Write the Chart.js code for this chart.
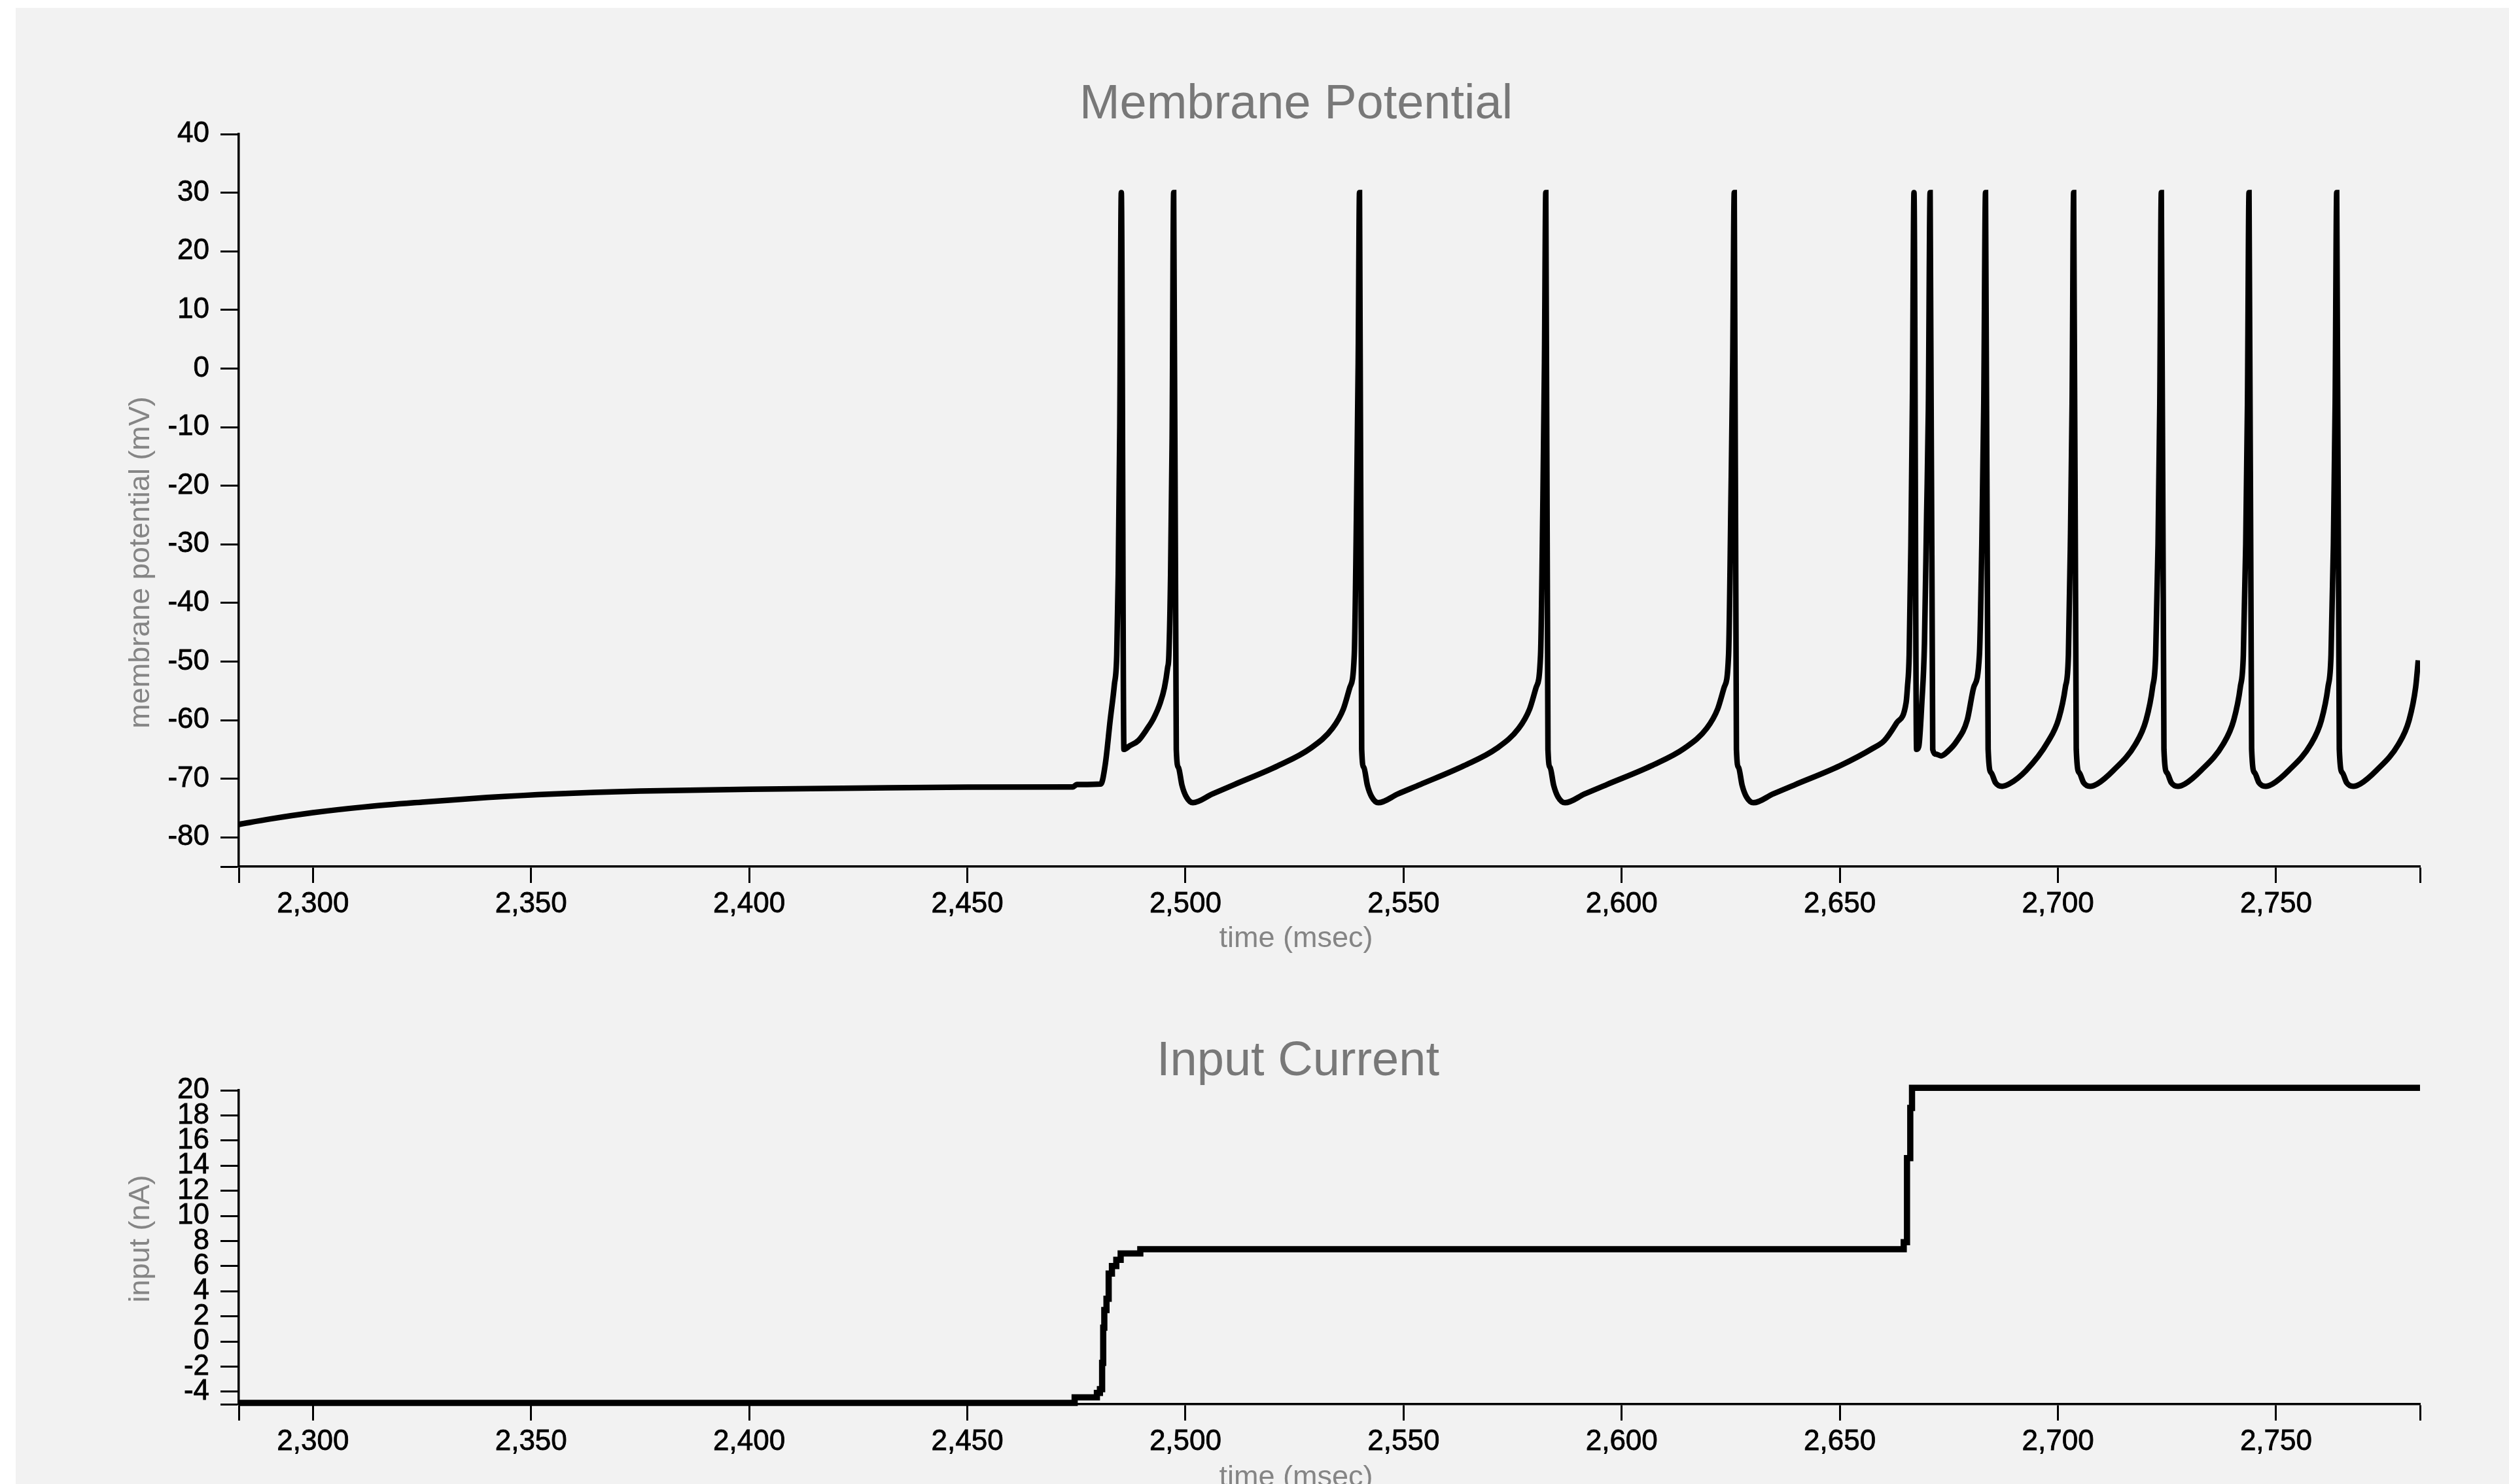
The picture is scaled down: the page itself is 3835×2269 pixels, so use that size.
<!DOCTYPE html>
<html><head><meta charset="utf-8">
<script src="https://cdn.jsdelivr.net/npm/chart.js@4.4.1/dist/chart.umd.min.js"></script>
<style>
html,body{margin:0;padding:0;background:#fff;overflow:hidden;}
#stage{position:relative;width:3835px;height:2269px;overflow:hidden;background:#fff;}
#panel{position:absolute;left:24px;top:12px;right:0;bottom:0;background:#f2f2f2;}
#topChart{position:absolute;left:0;top:0;width:3835px;height:1475px;}
#bottomChart{position:absolute;left:0;top:1475px;width:3835px;height:822px;}
</style></head><body>
<div id="stage"><div id="panel"></div>
<canvas id="topChart" width="3835" height="1475"></canvas>
<canvas id="bottomChart" width="3835" height="822"></canvas>
</div>
<script>
// ---------- data ----------
const timeMin = 2283, timeMax = 2783;
const xTickValues = [2300, 2350, 2400, 2450, 2500, 2550, 2600, 2650, 2700, 2750];
const xTickLabels = ['2,300', '2,350', '2,400', '2,450', '2,500', '2,550', '2,600', '2,650', '2,700', '2,750'];
const membraneMin = -85, membraneMax = 40;
const membraneTicks = [-80, -70, -60, -50, -40, -30, -20, -10, 0, 10, 20, 30, 40];
const currentMin = -5, currentMax = 20;
const currentTicks = [-4, -2, 0, 2, 4, 6, 8, 10, 12, 14, 16, 18, 20];

const chartTitles = ['Membrane Potential', 'Input Current'];
const axisTitles = { time: 'time (msec)', membrane: 'membrane potential (mV)', current: 'input (nA)' };

// membrane potential trace [time ms, mV]
const membranePoints = [
  [2283.0,-77.8],[2290,-76.9],[2300,-75.8],[2312,-74.8],[2325,-74.0],[2340,-73.2],[2355,-72.6],[2375,-72.1],
  [2400,-71.8],[2425,-71.6],[2450,-71.45],[2474.2,-71.4],[2475.1,-71.0],[2480.6,-70.9],
  [2481.65,-67.4],[2482.75,-60],[2483.7,-54],[2484.25,-48.9],[2484.6,-35],[2484.95,-10],[2485.3,30],[2485.9,-65],
  [2487.2,-64.4],[2489.2,-63.5],[2491.2,-61.5],[2492.7,-59.7],[2494.2,-57.1],[2495.2,-54.4],[2495.9,-51.1],[2496.2,-48.9],
  [2496.6,-35],[2496.95,-12],[2497.3,30],[2497.9,-65],
  [2498.4,-68.1],[2499.2,-71.1],[2500.2,-73.1],[2501.7,-74.1],[2506.2,-72.6],[2511.2,-71.0],[2521.2,-67.8],
  [2528.7,-64.8],[2533.7,-61.4],[2536.2,-58.1],[2537.7,-54.4],[2538.7,-48.9],[2539.25,-22],[2539.6,1],[2539.9,30],[2540.4,-65],
  [2540.9,-68.1],[2541.7,-71.1],[2542.7,-73.1],[2544.2,-74.1],[2548.7,-72.6],[2553.8,-71.0],[2563.8,-67.8],
  [2571.4,-64.8],[2576.4,-61.4],[2578.9,-58.1],[2580.4,-54.4],[2581.4,-48.9],[2581.95,-22],[2582.3,1],[2582.6,30],[2583.1,-65],
  [2583.6,-68.1],[2584.4,-71.1],[2585.4,-73.1],[2587.0,-74.1],[2591.5,-72.6],[2596.6,-71.0],[2606.8,-67.8],
  [2614.4,-64.8],[2619.5,-61.4],[2622.0,-58.1],[2623.5,-54.4],[2624.5,-48.9],[2625.05,-22],[2625.45,1],[2625.8,30],[2626.3,-65],
  [2626.8,-68.1],[2627.6,-71.1],[2628.6,-73.1],[2630.2,-74.1],[2634.7,-72.6],[2639.8,-71.0],[2650.0,-67.8],
  [2657.6,-64.8],[2660.2,-63.5],[2663.0,-60.5],[2665.2,-57.0],[2665.5,-54.4],[2665.9,-48.9],[2666.3,-30],[2666.65,-5],[2667.0,30],[2667.6,-65],
  [2668.1,-64.5],[2668.8,-57],[2669.4,-47],[2669.9,-25],[2670.3,-7],[2670.7,30],[2671.3,-65],
  [2672.0,-65.8],[2673.2,-66.1],[2674.8,-65.3],[2676.7,-63.7],[2679.2,-60],[2680.7,-54.4],[2682.0,-48.9],[2682.55,-30],[2683.0,-6],[2683.4,30],[2684.0,-65],
  [2684.7,-69.0],[2685.7,-70.7],[2687.2,-71.3],[2688.8,-70.9],[2692.7,-68.6],[2697.7,-63.7],[2700.2,-59.7],[2701.7,-54.4],[2702.4,-48.9],[2702.85,-30],[2703.25,-6],[2703.6,30],[2704.2,-65],
  [2704.9,-69.0],[2705.9,-70.7],[2707.4,-71.3],[2709.0,-70.9],[2712.7,-68.6],[2717.7,-64.2],[2720.2,-60],[2721.7,-54.4],[2722.4,-48.9],[2722.95,-30],[2723.35,-6],[2723.7,30],[2724.3,-65],
  [2725.0,-69.0],[2726.0,-70.7],[2727.5,-71.3],[2729.1,-70.9],[2732.8,-68.6],[2737.8,-64.2],[2740.3,-60],[2741.8,-54.4],[2742.5,-48.9],[2743.05,-30],[2743.45,-6],[2743.8,30],[2744.4,-65],
  [2745.1,-69.0],[2746.1,-70.7],[2747.6,-71.3],[2749.2,-70.9],[2752.9,-68.6],[2757.9,-64.2],[2760.4,-60],[2761.9,-54.4],[2762.6,-48.9],[2763.15,-30],[2763.55,-6],[2763.9,30],[2764.5,-65],
  [2765.2,-69.0],[2766.2,-70.7],[2767.7,-71.3],[2769.3,-70.9],[2773.0,-68.6],[2778.0,-64.2],[2780.5,-60],[2782.0,-54.4],[2782.6,-49.8]
];

// input current trace [time ms, nA] (held until next point)
const currentPoints = [
  [2283.0,-4.9],[2474.6,-4.45],[2479.7,-4.1],[2480.4,-3.8],[2480.9,-1.7],[2481.15,1.1],[2481.4,2.5],[2481.9,3.4],
  [2482.4,5.4],[2483.15,6.0],[2484.15,6.5],[2485.15,7.0],[2489.65,7.35],
  [2664.65,7.9],[2665.4,14.6],[2666.15,18.6],[2666.55,20.2],[2783.0,20.2]
];

// ---------- rendering ----------
const FONT = "'Liberation Sans', Arial, Helvetica, sans-serif";
Chart.defaults.font.family = FONT;

const panelText = {
  id: 'panelText',
  afterDraw(chart, args, opts) {
    const ctx = chart.ctx;
    (opts.items || []).forEach(it => {
      ctx.save();
      ctx.font = it.size + 'px ' + FONT;
      ctx.fillStyle = it.color;
      ctx.textAlign = 'center';
      ctx.textBaseline = 'alphabetic';
      ctx.translate(it.x, it.y);
      if (it.rotate) ctx.rotate(-Math.PI / 2);
      ctx.fillText(it.text, 0, 0);
      ctx.restore();
    });
  }
};

function xScale() {
  return {
    type: 'linear', min: timeMin, max: timeMax,
    afterBuildTicks: s => { s.ticks = [timeMin, ...xTickValues, timeMax].map(v => ({ value: v })); },
    afterFit: s => { s.height = 150; },
    ticks: {
      autoSkip: false, maxRotation: 0, minRotation: 0, padding: 6, color: '#000', font: { size: 44 },
      textStrokeColor: '#000', textStrokeWidth: 0.8,
      callback: v => { const i = xTickValues.indexOf(v); return i >= 0 ? xTickLabels[i] : ''; }
    },
    grid: { display: true, drawOnChartArea: false, drawTicks: true, tickLength: 25, tickWidth: 3, tickColor: '#000' },
    border: { display: true, color: '#000', width: 3.5 }
  };
}
function yScale(min, max, vals) {
  return {
    type: 'linear', min: min, max: max,
    afterBuildTicks: s => { s.ticks = [min, ...vals].map(v => ({ value: v })); },
    afterFit: s => { s.width = 365; },
    ticks: {
      autoSkip: false, padding: 17, color: '#000', font: { size: 44 },
      textStrokeColor: '#000', textStrokeWidth: 0.8,
      callback: v => vals.includes(v) ? String(v) : ''
    },
    grid: { display: true, drawOnChartArea: false, drawTicks: true, tickLength: 28, tickWidth: 3, tickColor: '#000' },
    border: { display: true, color: '#000', width: 3.5 }
  };
}

const TITLE_C = '#787878', AXIS_C = '#858585';

new Chart(document.getElementById('topChart'), {
  type: 'line',
  data: { datasets: [{
    data: membranePoints.map(p => ({ x: p[0], y: p[1] })),
    borderColor: '#000', borderWidth: 8.5, pointRadius: 0, fill: false,
    tension: 0.4, cubicInterpolationMode: 'monotone', borderJoinStyle: 'miter', borderCapStyle: 'butt'
  }] },
  options: {
    responsive: false, maintainAspectRatio: false, animation: false, events: [], devicePixelRatio: 1,
    layout: { padding: { top: 205, right: 136, left: 0, bottom: 0 } },
    plugins: {
      legend: { display: false }, tooltip: { enabled: false },
      panelText: { items: [
        { text: chartTitles[0], x: 1981, y: 181, size: 74, color: TITLE_C },
        { text: axisTitles.time, x: 1981, y: 1448, size: 45, color: AXIS_C },
        { text: axisTitles.membrane, x: 228, y: 860, size: 45, color: AXIS_C, rotate: true }
      ] }
    },
    scales: { x: xScale(), y: yScale(membraneMin, membraneMax, membraneTicks) }
  },
  plugins: [panelText]
});

new Chart(document.getElementById('bottomChart'), {
  type: 'line',
  data: { datasets: [{
    data: currentPoints.map(p => ({ x: p[0], y: p[1] })),
    borderColor: '#000', borderWidth: 9.5, pointRadius: 0, fill: false,
    stepped: true, clip: false, borderJoinStyle: 'miter', borderCapStyle: 'butt'
  }] },
  options: {
    responsive: false, maintainAspectRatio: false, animation: false, events: [], devicePixelRatio: 1,
    layout: { padding: { top: 192, right: 136, left: 0, bottom: 0 } },
    plugins: {
      legend: { display: false }, tooltip: { enabled: false },
      panelText: { items: [
        { text: chartTitles[1], x: 1984, y: 169, size: 74, color: TITLE_C },
        { text: axisTitles.time, x: 1981, y: 797, size: 45, color: AXIS_C },
        { text: axisTitles.current, x: 228, y: 419, size: 45, color: AXIS_C, rotate: true }
      ] }
    },
    scales: { x: xScale(), y: yScale(currentMin, currentMax, currentTicks) }
  },
  plugins: [panelText]
});
</script>
</body></html>
